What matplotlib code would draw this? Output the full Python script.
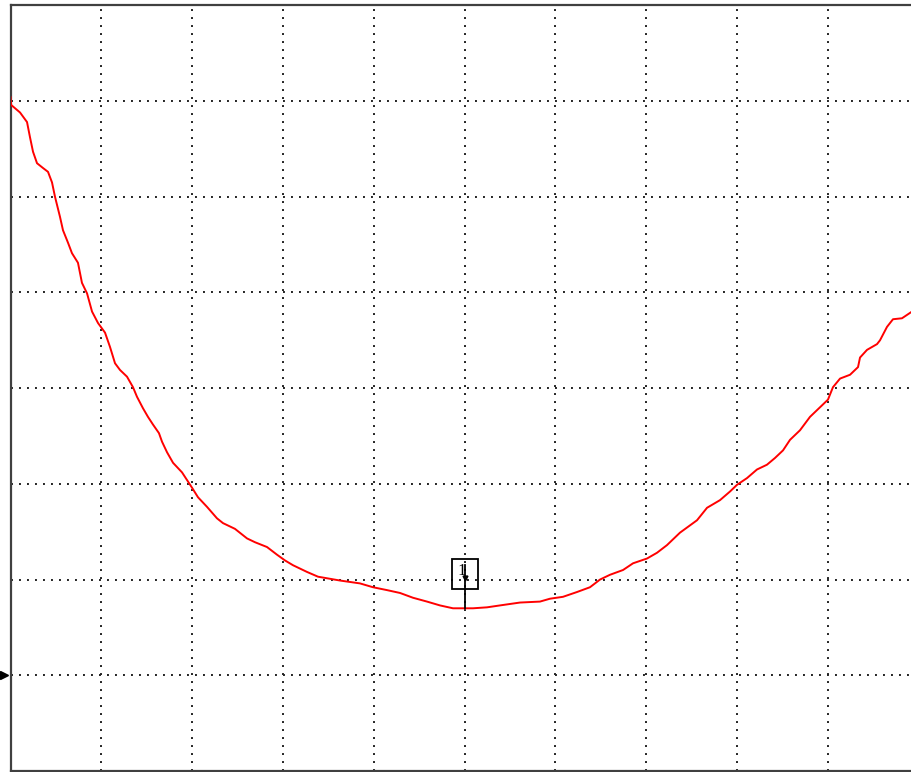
import matplotlib
matplotlib.use("Agg")
import matplotlib.pyplot as plt
from matplotlib.patches import Rectangle

plt.rcParams['lines.scale_dashes'] = False

# Trace values: x in 0..100 (10 per grid column), y in 0..80 (10 per grid row)
trace_x = [0, 0.06, 1.05, 1.82, 2.15, 2.48, 2.92, 3.58, 4.13, 4.57, 4.90, 5.45, 5.78, 6.33,
           6.77, 7.43, 7.87, 8.43, 8.98, 9.64, 10.41, 10.96, 11.51, 12.06, 12.83, 13.49,
           13.93, 14.59, 15.14, 15.69, 16.35, 16.69, 17.24, 17.90, 18.89, 19.44, 19.99,
           20.65, 21.64, 22.74, 23.40, 24.72, 26.05, 26.93, 28.25, 29.35, 30.23, 31.11,
           32.65, 33.87, 36.29, 38.49, 39.92, 41.46, 42.90, 44.33, 45.87, 47.30, 48.73,
           50.05, 50.94, 52.48, 53.91, 56.11, 58.31, 59.41, 60.85, 62.39, 63.82, 64.92,
           66.02, 67.46, 68.56, 70.10, 71.20, 72.30, 73.73, 75.61, 76.71, 78.14, 79.24,
           80.01, 81.11, 82.21, 83.31, 84.19, 85.08, 85.85, 86.95, 88.05, 89.15, 90.03,
           90.58, 91.36, 92.46, 93.34, 93.56, 94.33, 95.43, 95.76, 96.53, 97.19, 98.18,
           99.28]
trace_y = [70.4, 69.6, 68.8, 67.8, 66.2, 64.7, 63.5, 63.0, 62.6, 61.5, 60.0, 57.9, 56.5, 55.2,
           54.1, 53.1, 51.0, 49.9, 48.0, 46.8, 45.8, 44.3, 42.6, 41.9, 41.2, 40.1,
           39.1, 37.9, 37.0, 36.2, 35.3, 34.4, 33.3, 32.2, 31.2, 30.4, 29.6,
           28.6, 27.6, 26.4, 25.9, 25.3, 24.3, 23.9, 23.4, 22.6, 22.0, 21.5,
           20.8, 20.3, 19.9, 19.6, 19.2, 18.9, 18.6, 18.1, 17.7, 17.3, 17.0,
           17.0, 17.0, 17.1, 17.3, 17.6, 17.7, 18.0, 18.2, 18.7, 19.2, 20.0,
           20.5, 21.0, 21.7, 22.2, 22.8, 23.6, 24.9, 26.2, 27.5, 28.3, 29.2,
           29.9, 30.6, 31.5, 32.0, 32.7, 33.5, 34.6, 35.6, 37.0, 38.0, 38.8,
           40.1, 41.0, 41.4, 42.2, 43.2, 44.0, 44.6, 45.0, 46.4, 47.2, 47.3,
           48.0]

x_grid = [10, 20, 30, 40, 50, 60, 70, 80, 90]
y_grid = [10, 20, 30, 40, 50, 60, 70]

marker_x = 50.05
marker_y = 17.0
marker_label = "1"
ref_level = 10

fig = plt.figure(figsize=(9.11, 7.72), dpi=100)
ax = fig.add_axes([10.5 / 911, 1.0 / 772, 908 / 911, 765.7 / 772])
ax.set_xlim(0, 100)
ax.set_ylim(0, 80)

for gx in x_grid:
    ax.axvline(gx, color='#222222', lw=1.4, linestyle=(0, (1.4, 4.36)), zorder=1)
for gy in y_grid:
    ax.axhline(gy, color='#222222', lw=1.4, linestyle=(0, (1.4, 4.36)), zorder=1)

ax.plot(trace_x, trace_y, color='#ff0000', lw=1.4, zorder=3)

# marker 1: box, label and stem down to the trace
ax.add_patch(Rectangle((marker_x - 1.4, marker_y + 2.0), 2.8, 3.2, fill=False,
                       ec='black', lw=1.3, zorder=5))
ax.plot([marker_x, marker_x], [marker_y, marker_y + 4.5], color='black', lw=1.3, zorder=4)
ax.plot([marker_x], [marker_y + 3.2], marker='v', color='black', markersize=3.5, zorder=5)
ax.text(marker_x - 0.35, marker_y + 3.85, marker_label, ha='center', va='center',
        fontsize=12, family='Liberation Serif', color='black', zorder=5)

# reference level arrow on left
ax.plot([-0.75], [ref_level], marker='>', color='black', markersize=6, clip_on=False, zorder=6)

ax.set_xticks([])
ax.set_yticks([])
for s in ax.spines.values():
    s.set_color('#404040')
    s.set_linewidth(1.6)

fig.savefig('out.png', dpi=100)
